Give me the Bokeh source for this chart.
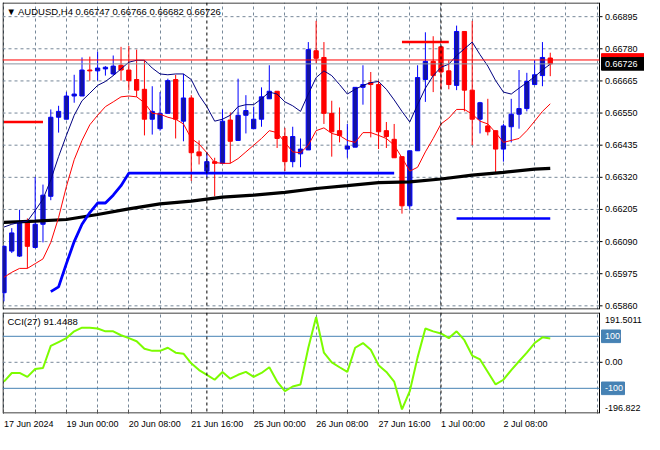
from bokeh.plotting import figure
from bokeh.models import Range1d, FixedTicker, Span, Label, Grid, ColumnDataSource
from bokeh.layouts import column
from bokeh.embed import file_html
from bokeh.resources import INLINE
from bokeh.core.properties import value

# ---------------- data ----------------
symbol = "AUDUSD,H4"
opens = [0.65907, 0.66056, 0.66038, 0.66159, 0.66069, 0.66152, 0.66252, 0.66535, 0.66528, 0.66611,
         0.66611, 0.66704, 0.66701, 0.66708, 0.66690, 0.66721, 0.66704, 0.66670, 0.66635, 0.66528,
         0.66494, 0.66549, 0.66670, 0.66521, 0.66604, 0.66411, 0.66342, 0.66376, 0.66370, 0.66525,
         0.66452, 0.66542, 0.66494, 0.66528, 0.66601, 0.66628, 0.66466, 0.66376, 0.66404, 0.66418,
         0.66773, 0.66749, 0.66549, 0.66487, 0.66421, 0.66428, 0.66642, 0.66659, 0.66652, 0.66487,
         0.66456, 0.66394, 0.66218, 0.66415, 0.66670, 0.66735, 0.66787, 0.66701, 0.66649, 0.66842,
         0.66632, 0.66528, 0.66504, 0.66487, 0.66421, 0.66501, 0.66546, 0.66566, 0.66652, 0.66684,
         0.66747]
highs = [0.66076, 0.66138, 0.66204, 0.66173, 0.66321, 0.66294, 0.66563, 0.66576, 0.66625, 0.66687,
         0.66749, 0.66752, 0.66770, 0.66718, 0.66756, 0.66787, 0.66790, 0.66777, 0.66739, 0.66646,
         0.66625, 0.66673, 0.66687, 0.66690, 0.66614, 0.66452, 0.66411, 0.66390, 0.66563, 0.66552,
         0.66673, 0.66614, 0.66573, 0.66642, 0.66721, 0.66628, 0.66497, 0.66501, 0.66459, 0.66804,
         0.66880, 0.66804, 0.66594, 0.66570, 0.66511, 0.66642, 0.66721, 0.66697, 0.66666, 0.66518,
         0.66511, 0.66394, 0.66415, 0.66721, 0.66839, 0.66825, 0.66790, 0.66739, 0.66863, 0.66842,
         0.66880, 0.66590, 0.66601, 0.66487, 0.66511, 0.66601, 0.66704, 0.66694, 0.66739, 0.66804,
         0.66766]
lows = [0.65876, 0.66049, 0.66035, 0.65994, 0.66066, 0.66087, 0.66238, 0.66480, 0.66528, 0.66587,
        0.66611, 0.66666, 0.66666, 0.66684, 0.66684, 0.66666, 0.66632, 0.66608, 0.66470, 0.66473,
        0.66487, 0.66549, 0.66459, 0.66449, 0.66307, 0.66366, 0.66321, 0.66252, 0.66370, 0.66370,
        0.66452, 0.66477, 0.66494, 0.66501, 0.66601, 0.66425, 0.66342, 0.66356, 0.66356, 0.66418,
        0.66728, 0.66511, 0.66394, 0.66445, 0.66390, 0.66428, 0.66580, 0.66463, 0.66421, 0.66425,
        0.66390, 0.66190, 0.66204, 0.66415, 0.66590, 0.66625, 0.66635, 0.66635, 0.66632, 0.66556,
        0.66435, 0.66477, 0.66470, 0.66332, 0.66376, 0.66445, 0.66494, 0.66556, 0.66652, 0.66646,
        0.66682]
closes = [0.66073, 0.66121, 0.66159, 0.66073, 0.66152, 0.66256, 0.66535, 0.66556, 0.66611, 0.66618,
          0.66704, 0.66701, 0.66711, 0.66714, 0.66718, 0.66704, 0.66666, 0.66632, 0.66528, 0.66556,
          0.66549, 0.66666, 0.66528, 0.66604, 0.66408, 0.66397, 0.66376, 0.66370, 0.66521, 0.66449,
          0.66542, 0.66559, 0.66528, 0.66608, 0.66628, 0.66459, 0.66376, 0.66466, 0.66421, 0.66777,
          0.66746, 0.66549, 0.66483, 0.66470, 0.66432, 0.66642, 0.66652, 0.66652, 0.66483, 0.66466,
          0.66390, 0.66218, 0.66415, 0.66677, 0.66735, 0.66684, 0.66697, 0.66652, 0.66842, 0.66632,
          0.66528, 0.66587, 0.66483, 0.66421, 0.66504, 0.66546, 0.66566, 0.66663, 0.66687, 0.66749,
          0.66726]
ma_fast = [0.66142, 0.66152, 0.66159, 0.66163, 0.66201, 0.66242, 0.66311, 0.66394, 0.66470, 0.66542,
           0.66594, 0.66621, 0.66649, 0.66663, 0.66684, 0.66708, 0.66732, 0.66739, 0.66739, 0.66711,
           0.66690, 0.66687, 0.66690, 0.66690, 0.66670, 0.66614, 0.66573, 0.66521, 0.66528, 0.66542,
           0.66573, 0.66580, 0.66580, 0.66601, 0.66625, 0.66618, 0.66590, 0.66576, 0.66556, 0.66618,
           0.66677, 0.66701, 0.66684, 0.66652, 0.66618, 0.66635, 0.66649, 0.66659, 0.66663, 0.66635,
           0.66597, 0.66556, 0.66518, 0.66580, 0.66639, 0.66684, 0.66714, 0.66725, 0.66756, 0.66780,
           0.66804, 0.66759, 0.66718, 0.66666, 0.66625, 0.66618, 0.66639, 0.66659, 0.66680, 0.66704,
           0.66725]
ma_slow = [0.65962, 0.65980, 0.65994, 0.65994, 0.66011, 0.66028, 0.66087, 0.66176, 0.66287, 0.66383,
           0.66452, 0.66508, 0.66542, 0.66573, 0.66590, 0.66608, 0.66611, 0.66608, 0.66587, 0.66549,
           0.66546, 0.66535, 0.66528, 0.66511, 0.66459, 0.66439, 0.66408, 0.66373, 0.66370, 0.66370,
           0.66387, 0.66411, 0.66435, 0.66459, 0.66487, 0.66480, 0.66445, 0.66411, 0.66408, 0.66435,
           0.66487, 0.66497, 0.66477, 0.66470, 0.66452, 0.66445, 0.66480, 0.66480, 0.66470, 0.66459,
           0.66435, 0.66390, 0.66342, 0.66356, 0.66411, 0.66459, 0.66511, 0.66532, 0.66563, 0.66563,
           0.66546, 0.66521, 0.66511, 0.66480, 0.66445, 0.66452, 0.66459, 0.66487, 0.66521, 0.66556,
           0.66583]
ma200_idx = [0, 4, 8, 12, 16, 20, 24, 28, 32, 36, 40, 44, 48, 52, 56, 60, 64, 68, 70]
ma200 = [0.66159, 0.66163, 0.66169, 0.66187, 0.66207, 0.66225, 0.66235, 0.66249, 0.66256, 0.66266,
         0.66280, 0.66290, 0.66301, 0.66304, 0.66314, 0.66328, 0.66338, 0.66349, 0.66352]
support_idx = [6, 7, 8, 9, 10, 11, 12, 13, 14, 15, 16, 50]
support = [0.65911, 0.65928, 0.66011, 0.66090, 0.66152, 0.66194, 0.66228, 0.66228, 0.66256, 0.66290,
           0.66335, 0.66335]
blue_seg_idx = [58, 70]
blue_seg = [0.66173, 0.66173]
red_seg1_idx = [0, 5]
red_seg1 = [0.66518, 0.66518]
red_seg2_idx = [51, 57]
red_seg2 = [0.66804, 0.66804]
ask = 0.66740
cci_period = 27
cci = [-74, -41, -41, -56, -26, -22, 63, 78, 93, 119,
       133, 133, 130, 119, 119, 104, 93, 81, 52, 44,
       44, 56, 37, 33, -4, -30, -48, -67, -37, -63,
       -48, -37, -56, -41, -19, -74, -111, -93, -85, 56,
       174, 37, 0, -19, -37, 56, 74, 48, -11, -37,
       -74, -181, -111, 19, 130, 119, 111, 93, 119, 85,
       26, 11, -37, -85, -67, -30, 4, 37, 74, 96,
       91.4488]
cci_range = [-196.822, 191.5011]
cci_levels = [100, -100]
price_ticks = [0.65860, 0.65975, 0.66090, 0.66205, 0.66320, 0.66435, 0.66550, 0.66665, 0.66780, 0.66895]
time_label_idx = [0, 8, 16, 24, 32, 40, 48, 56, 64]
time_labels = ["17 Jun 2024", "19 Jun 00:00", "20 Jun 08:00", "21 Jun 16:00", "25 Jun 00:00",
               "26 Jun 08:00", "27 Jun 16:00", "1 Jul 00:00", "2 Jul 08:00"]
separator_idx = [26, 56]

# ---------------- style / layout ----------------
FONT = "Liberation Sans"
FS = "9px"
GRID = "#778899"
BULL_FILL = "#14149E"
BULL_LINE = "#0000FF"
BEAR = "#FF0000"
STEEL = "#4682B4"
X0, X1 = -0.1875, 76.31          # X1 = price-scale separator
PPC = 597 / (X1 - X0)            # screen px per bar
FW = 642
XE = X0 + FW / PPC               # right end of the drawing area
grid_idx = list(range(0, 77, 4))

MAIN_H = 307
PY0, PY1 = 0.658469, 0.669457
UPX = (PY1 - PY0) / MAIN_H       # price per px
CCI_H = 101
UPC = (cci_range[1] - cci_range[0]) / CCI_H

n = len(opens)
idx = list(range(n))


def base(fig, ylo, yhi, upx):
    fig.outline_line_color = None
    fig.background_fill_color = "white"
    fig.border_fill_color = "white"
    for g in fig.grid:
        g.visible = False
    fig.add_layout(Grid(dimension=0, ticker=FixedTicker(ticks=grid_idx), grid_line_color=GRID,
                        grid_line_dash="3 3", grid_line_width=1))
    for s in separator_idx:
        fig.add_layout(Span(location=s, dimension="height", line_color="black",
                            line_dash="3 3", line_width=1))
    # frame borders (left, right separator, top, bottom)
    lx = X0 + 0.5 / PPC
    ty = yhi - 0.5 * upx
    by = ylo + 0.5 * upx
    fig.segment(x0=[lx, X1, lx, lx], y0=[ylo, ylo, ty, by], x1=[lx, X1, X1, X1], y1=[yhi, yhi, ty, by],
                line_color="black", line_width=1)


def scale_text(fig, ys, texts, color="black"):
    fig.text(x=[X1] * len(ys), y=ys, text=texts, x_offset=5.5, text_baseline="middle",
             text_align="left", text_font=value(FONT), text_font_size=FS, text_color=color)


# ---- main price panel ----
p = figure(frame_width=FW, frame_height=MAIN_H, x_range=Range1d(X0, XE),
           y_range=Range1d(PY0, PY1), x_axis_location=None, y_axis_location=None,
           toolbar_location=None, output_backend="svg",
           min_border_left=2, min_border_right=0, min_border_top=2, min_border_bottom=1)
base(p, PY0, PY1, UPX)
p.segment(x0=X0, x1=X1, y0=price_ticks, y1=price_ticks, line_color=GRID, line_dash="3 3", line_width=1)

bull = [i for i in idx if closes[i] >= opens[i]]
bear = [i for i in idx if closes[i] < opens[i]]
for sel, fill, line in ((bull, BULL_FILL, BULL_LINE), (bear, BEAR, BEAR)):
    src = ColumnDataSource(dict(
        x=sel,
        hi=[highs[i] for i in sel], lo=[lows[i] for i in sel],
        top=[max(opens[i], closes[i]) for i in sel],
        bot=[min(opens[i], closes[i]) for i in sel]))
    p.segment(x0="x", y0="lo", x1="x", y1="hi", source=src, line_color=line, line_width=1)
    p.vbar(x="x", width=0.55, top="top", bottom="bot", source=src,
           fill_color=fill, line_color=line, line_width=1)

p.line(ma200_idx, ma200, line_color="black", line_width=3.2)
p.line(support_idx, support, line_color="#0000FF", line_width=2.8)
p.line(blue_seg_idx, blue_seg, line_color="#0000FF", line_width=2.5)
p.line(red_seg1_idx, red_seg1, line_color="#FF0000", line_width=2.5)
p.line(red_seg2_idx, red_seg2, line_color="#FF0000", line_width=2.5)
p.line(idx, ma_slow, line_color="#FF0000", line_width=1)
p.line(idx, ma_fast, line_color="#000080", line_width=1)

bid = closes[-1]
p.segment(x0=X0, x1=X1, y0=[ask, bid], y1=[ask, bid], line_color=["#FF0000", "#8A96A3"], line_width=1)

# price scale: tick marks + labels
p.segment(x0=X1, x1=X1 + 3 / PPC, y0=price_ticks, y1=price_ticks, line_color="black", line_width=1)
scale_text(p, price_ticks, [f"{t:.5f}" for t in price_ticks])

# ask / bid boxes on the scale
for lvl, col in ((ask, "#FF0000"), (bid, "black")):
    p.quad(left=X1 + 2 / PPC, right=XE, top=lvl + 6.3 * UPX, bottom=lvl - 6.3 * UPX,
           fill_color=col, line_color=col)
    scale_text(p, [lvl], [f"{lvl:.5f}"], color="white")

title = f"\u25BC {symbol}  {opens[-1]:.5f} {highs[-1]:.5f} {lows[-1]:.5f} {closes[-1]:.5f}"
p.add_layout(Label(x=X0, y=PY1, x_offset=4, y_offset=-3, text=title, text_font=FONT,
                   text_font_size="9.5px", text_color="black", text_baseline="top", text_align="left"))

# ---- CCI panel ----
c = figure(frame_width=FW, frame_height=CCI_H, x_range=p.x_range,
           y_range=Range1d(cci_range[0], cci_range[1]), y_axis_location=None,
           toolbar_location=None, output_backend="svg",
           min_border_left=2, min_border_right=0, min_border_top=2, min_border_bottom=20)
base(c, cci_range[0], cci_range[1], UPC)
c.segment(x0=X0, x1=X1, y0=0, y1=0, line_color=GRID, line_dash="3 3", line_width=1)
c.segment(x0=X0, x1=X1, y0=cci_levels, y1=cci_levels, line_color=STEEL, line_width=1)
c.line(idx, cci, line_color="#7CFC00", line_width=2)

top_pos = cci_range[1] - 7.1 * UPC
bot_pos = cci_range[0] + 5.7 * UPC
c.segment(x0=X1, x1=X1 + 3 / PPC, y0=0, y1=0, line_color="black", line_width=1)
scale_text(c, [top_pos, 0, bot_pos], [str(cci_range[1]), "0.00", str(cci_range[0])])
for lv in cci_levels:
    w = 19 if lv > 0 else 23
    c.quad(left=X1 + 2 / PPC, right=X1 + (2 + w) / PPC, top=lv + 6.3 * UPC, bottom=lv - 6.3 * UPC,
           fill_color=STEEL, line_color=STEEL)
    scale_text(c, [lv], [str(lv)], color="white")

c.add_layout(Label(x=X0, y=cci_range[1], x_offset=5, y_offset=-3,
                   text=f"CCI({cci_period}) {cci[-1]:.4f}", text_font=FONT, text_font_size="9.5px",
                   text_color="black", text_baseline="top", text_align="left"))

# time axis: labels left-aligned at their bar (centre shifted by half the text width)
CW = {"0": 556, "1": 556, "2": 556, "3": 556, "4": 556, "5": 556, "6": 556, "7": 556, "8": 556,
      "9": 556, " ": 278, ":": 278, "J": 500, "u": 556, "n": 556, "l": 222}


def text_w(s, size=9.0):
    return sum(CW.get(ch, 556) for ch in s) / 1000.0 * size


label_pos = [round(a + text_w(s) / 2 / PPC, 4) for a, s in zip(time_label_idx, time_labels)]
xa = c.xaxis[0]
xa.ticker = FixedTicker(ticks=label_pos, minor_ticks=grid_idx)
xa.major_label_overrides = {pos: s for pos, s in zip(label_pos, time_labels)}
xa.major_label_text_font = FONT
xa.major_label_text_font_size = FS
xa.major_label_text_color = "black"
xa.axis_line_color = None
xa.major_tick_in = 0
xa.major_tick_out = 0
xa.minor_tick_line_color = "#555555"
xa.minor_tick_in = 4
xa.minor_tick_out = 0
xa.major_label_standoff = 5

layout = column(p, c)
open("out.html", "w").write(file_html(layout, INLINE))
